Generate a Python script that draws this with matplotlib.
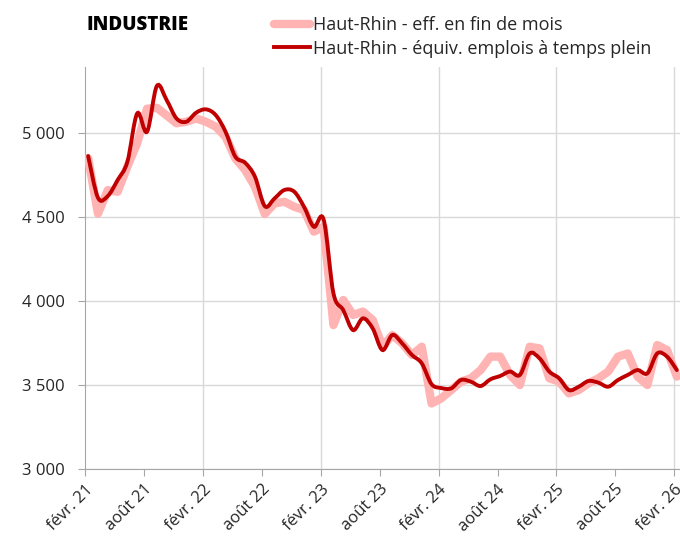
import matplotlib.pyplot as plt
import numpy as np
from matplotlib.path import Path
from matplotlib.patches import PathPatch

# monthly values, févr. 2021 -> févr. 2026
eff_fin_mois = [4850, 4520, 4660, 4650, 4800, 4940, 5145, 5150, 5105, 5058,
                5067, 5087, 5067, 5038, 4978, 4849, 4780, 4680, 4518, 4581,
                4591, 4561, 4542, 4413, 4442, 3857, 4006, 3917, 3937, 3887,
                3728, 3798, 3748, 3679, 3728, 3390, 3421, 3470, 3520, 3540,
                3589, 3669, 3669, 3560, 3500, 3728, 3718, 3540, 3520, 3450,
                3470, 3510, 3540, 3580, 3669, 3688, 3550, 3500, 3738, 3708,
                3550]
etp = [4863, 4615, 4625, 4720, 4829, 5117, 5008, 5280, 5196, 5087,
       5067, 5121, 5141, 5107, 5008, 4859, 4823, 4740, 4565, 4611,
       4661, 4651, 4561, 4442, 4485, 4046, 3946, 3827, 3897, 3837,
       3708, 3798, 3748, 3679, 3629, 3505, 3482, 3480, 3530, 3520,
       3494, 3534, 3554, 3580, 3560, 3688, 3659, 3580, 3540, 3470,
       3490, 3524, 3514, 3490, 3530, 3560, 3589, 3570, 3688, 3669,
       3589]

tick_labels = ['févr. 21', 'août 21', 'févr. 22', 'août 22', 'févr. 23',
               'août 23', 'févr. 24', 'août 24', 'févr. 25', 'août 25',
               'févr. 26']
yticks = [3000, 3500, 4000, 4500, 5000]

plt.rcParams['font.family'] = ['Open Sans', 'DejaVu Sans']

x = np.arange(len(etp)) + 0.28


def smooth_path(xs, ys, t=0.5):
    # catmull-rom -> bezier, like excel smoothed lines
    xs = np.asarray(xs, float)
    ys = np.asarray(ys, float)
    n = len(xs)
    verts = [(xs[0], ys[0])]
    codes = [Path.MOVETO]
    for i in range(n - 1):
        i0 = max(i - 1, 0)
        i3 = min(i + 2, n - 1)
        c1 = (xs[i] + (xs[i + 1] - xs[i0]) * t / 3, ys[i] + (ys[i + 1] - ys[i0]) * t / 3)
        c2 = (xs[i + 1] - (xs[i3] - xs[i]) * t / 3, ys[i + 1] - (ys[i3] - ys[i]) * t / 3)
        verts += [c1, c2, (xs[i + 1], ys[i + 1])]
        codes += [Path.CURVE4] * 3
    return Path(verts, codes)


fig = plt.figure(figsize=(6.8, 5.37), dpi=100)
ax = fig.add_axes([0.1256, 0.1266, 0.8744, 0.7486])

ax.plot(x, eff_fin_mois, color='#FFB3B3', lw=6, solid_joinstyle='round',
        solid_capstyle='round', label='Haut-Rhin - eff. en fin de mois', zorder=3)
ax.add_patch(PathPatch(smooth_path(x, etp), facecolor='none', edgecolor='#C00000',
                       lw=2.8, capstyle='round', zorder=4))
ax.plot([], [], color='#C00000', lw=2.8, label='Haut-Rhin - équiv. emplois à temps plein')

ax.set_xlim(0, 60.6)
ax.set_ylim(3000, 5393)
ax.set_yticks(yticks)
ax.set_yticklabels([f'{v:,}'.replace(',', ' ') for v in yticks])
ax.set_xticks(np.arange(0, 61, 6))
ax.set_xticklabels(tick_labels, rotation=45, ha='right', rotation_mode='anchor')

ax.grid(axis='y', color='#D9D9D9', lw=1)
for xv in range(12, 61, 12):
    ax.axvline(xv, color='#D9D9D9', lw=1, zorder=0)
ax.set_axisbelow(True)

for s in ['top', 'right']:
    ax.spines[s].set_visible(False)
for s in ['left', 'bottom']:
    ax.spines[s].set_color('#A6A6A6')
ax.tick_params(axis='both', colors='#A6A6A6', length=5, labelsize=12,
               labelcolor='#262626')
ax.tick_params(axis='x', pad=4)
ax.tick_params(axis='y', pad=10)

fig.text(86 / 680, 1 - 25 / 537, 'INDUSTRIE', fontsize=13.5, fontweight='heavy',
         va='center', ha='left', color='black')
leg = ax.legend(loc='upper left', bbox_to_anchor=(267 / 680, 1 - 9 / 537),
                bbox_transform=fig.transFigure, frameon=False, fontsize=13,
                handlelength=2.0, handletextpad=0.15, labelspacing=0.3,
                borderaxespad=0)
for t in leg.get_texts():
    t.set_color('#262626')

plt.savefig('out.png', dpi=100)
